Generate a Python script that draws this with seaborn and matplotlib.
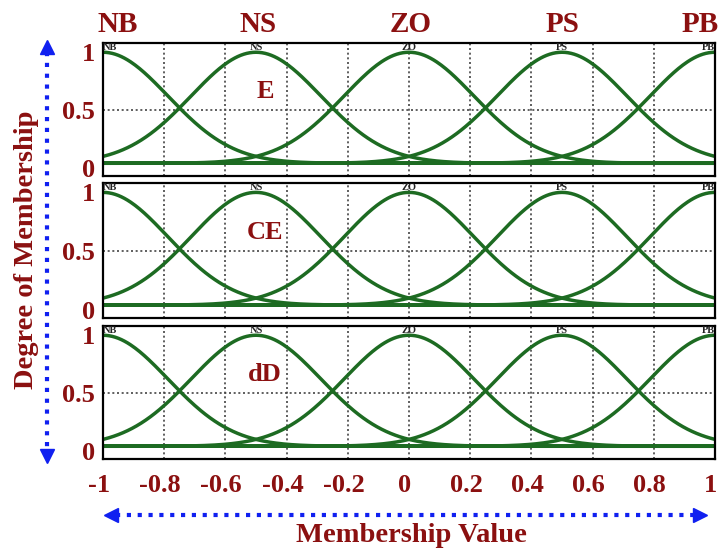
import numpy as np
import pandas as pd
import matplotlib
matplotlib.use("Agg")
import matplotlib.pyplot as plt
from matplotlib.lines import Line2D
import seaborn as sns

# fuzzy sets (gaussian membership functions)
set_names = ["NB", "NS", "ZO", "PS", "PB"]
set_centers = [-1.0, -0.5, 0.0, 0.5, 1.0]
set_width = 0.212          # sigma, curves cross at 0.5 halfway between centers
floor_level = 0.04         # flat bottom line seen in each panel
panel_names = ["E", "CE", "dD"]
x_ticks = [-1, -0.8, -0.6, -0.4, -0.2, 0, 0.2, 0.4, 0.6, 0.8, 1]
x_ticklabels = ["-1", "-0.8", "-0.6", "-0.4", "-0.2", "0", "0.2", "0.4", "0.6", "0.8", "1"]
y_ticks = [0, 0.5, 1]
y_ticklabels = ["0", "0.5", "1"]

red = "#8b1010"
green = "#1d6b22"
blue = "#1020f0"

sns.set_style("white")
plt.rcParams["font.family"] = ["Liberation Serif", "DejaVu Serif"]
plt.rcParams["font.weight"] = "bold"

xs = np.linspace(-1, 1, 401)
rows = []
for name, c in zip(set_names, set_centers):
    mu = floor_level + (1 - floor_level) * np.exp(-(xs - c) ** 2 / (2 * set_width ** 2))
    rows.append(pd.DataFrame({"x": xs, "mu": mu, "set": name}))
df = pd.concat(rows, ignore_index=True)

fig = plt.figure(figsize=(7.21, 5.52), dpi=100)
boxes = [(43, 176), (183, 318), (326, 459)]
left, right = 103 / 721, 715 / 721

for i, (panel, (top, bot)) in enumerate(zip(panel_names, boxes)):
    ax = fig.add_axes([left, 1 - bot / 552, right - left, (bot - top) / 552])
    sns.lineplot(data=df, x="x", y="mu", units="set", estimator=None,
                 color=green, lw=2.5, ax=ax, legend=False)
    ax.axhline(floor_level, color=green, lw=2.8)
    ax.set_xlim(-1, 1)
    ax.set_ylim(-0.07, 1.08)
    for gx in x_ticks[1:-1]:
        ax.axvline(gx, color="#444444", lw=1.2, ls=(0, (1.2, 1.6)), zorder=0)
    ax.axhline(0.5, color="#444444", lw=1.2, ls=(0, (1.2, 1.6)), zorder=0)
    ax.set_yticks(y_ticks)
    ax.set_yticklabels(y_ticklabels, color=red, fontsize=19, fontweight="bold")
    ax.set_xticks(x_ticks)
    ax.set_xticklabels([])
    if i == 2:
        # x labels sit a little left of their grid lines in the original
        for xt, lab in zip(x_ticks, x_ticklabels):
            ax.annotate(lab, xy=(xt, 0), xycoords=("data", "axes fraction"),
                        xytext=(-3, -19), textcoords="offset points",
                        ha="center", va="center", fontsize=19,
                        fontweight="bold", color=red, annotation_clip=False)
    ax.tick_params(length=0, pad=6)
    ax.set_xlabel("")
    ax.set_ylabel("")
    for s in ax.spines.values():
        s.set_color("black")
        s.set_linewidth(1.6)
    # tiny set names along the top of each panel
    for name, c in zip(set_names, set_centers):
        ha = "left" if c == -1 else ("right" if c == 1 else "center")
        ax.text(c, 1.04, name, ha=ha, va="center", fontsize=7.5,
                fontweight="bold", color="#222222")
    ax.text(-0.47, 0.66, panel, ha="center", va="center", fontsize=19,
            fontweight="bold", color=red)

# big set names above the top panel
top_pos = [118, 258, 411, 563, 700]
for name, px in zip(set_names, top_pos):
    fig.text(px / 721, 1 - 24 / 552, name, ha="center", va="center",
             fontsize=21, fontweight="bold", color=red)

fig.text(27 / 721, 1 - 250 / 552, "Degree of Membership", rotation=90,
         ha="center", va="center", fontsize=20.5, fontweight="bold", color=red)
fig.text(411 / 721, 1 - 535 / 552, "Membership Value",
         ha="center", va="center", fontsize=20.5, fontweight="bold", color=red)

# blue dotted double arrows
vx = 47 / 721
fig.add_artist(Line2D([vx, vx], [1 - 52 / 552, 1 - 452 / 552], color=blue,
                      lw=3, ls=(0, (1, 1.6)), transform=fig.transFigure))
fig.add_artist(Line2D([vx], [1 - 47 / 552], marker="^", ms=10, color=blue,
                      transform=fig.transFigure))
fig.add_artist(Line2D([vx], [1 - 456 / 552], marker="v", ms=10, color=blue,
                      transform=fig.transFigure))
hy = 1 - 515 / 552
fig.add_artist(Line2D([116 / 721, 694 / 721], [hy, hy], color=blue,
                      lw=3, ls=(0, (1, 1.6)), transform=fig.transFigure))
fig.add_artist(Line2D([111 / 721], [hy], marker="<", ms=10, color=blue,
                      transform=fig.transFigure))
fig.add_artist(Line2D([700 / 721], [hy], marker=">", ms=10, color=blue,
                      transform=fig.transFigure))

fig.savefig("out.png", dpi=100)
